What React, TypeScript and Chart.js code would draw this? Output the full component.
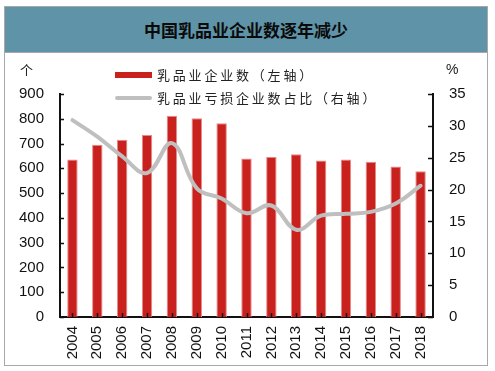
import React, { useEffect, useRef } from "react";
import Chart from "chart.js/auto";

const years = ["2004", "2005", "2006", "2007", "2008", "2009", "2010", "2011", "2012", "2013", "2014", "2015", "2016", "2017", "2018"];
const enterpriseCount = [636, 695, 715, 735, 812, 802, 782, 640, 646, 657, 632, 636, 627, 607, 588];
const lossShare = [30.9, 28.3, 25.2, 22.6, 27.3, 20.2, 18.6, 16.3, 17.5, 13.7, 15.9, 16.2, 16.5, 17.8, 20.6];
const leftTicks = [0, 100, 200, 300, 400, 500, 600, 700, 800, 900];
const rightTicks = [0, 5, 10, 15, 20, 25, 30, 35];

const titleText = "中国乳品业企业数逐年减少";
const barLabel = "乳品业企业数（左轴）";
const lineLabel = "乳品业亏损企业数占比（右轴）";

const tickPlugin = {
  id: "innerTicks",
  afterDatasetsDraw(chart: any) {
    const ctx = chart.ctx;
    const xs = chart.scales.x;
    const y = chart.scales.y;
    const y1 = chart.scales.y1;
    const area = chart.chartArea;
    ctx.save();
    ctx.strokeStyle = "#111";
    ctx.lineWidth = 1.5;
    ctx.beginPath();
    leftTicks.forEach((v) => {
      const py = Math.round(y.getPixelForValue(v)) + 0.5;
      ctx.moveTo(area.left, py);
      ctx.lineTo(area.left + 4, py);
    });
    rightTicks.forEach((v) => {
      const py = Math.round(y1.getPixelForValue(v)) + 0.5;
      ctx.moveTo(area.right, py);
      ctx.lineTo(area.right - 5, py);
    });
    years.forEach((_, i) => {
      const px = Math.round(xs.getPixelForValue(i)) + 0.5;
      ctx.moveTo(px, area.bottom);
      ctx.lineTo(px, area.bottom - 4);
    });
    ctx.stroke();
    ctx.restore();
  },
};

export default function App() {
  const ref = useRef<HTMLCanvasElement | null>(null);

  useEffect(() => {
    if (!ref.current) return;
    const tickFont = { family: "'Liberation Sans', Arial, sans-serif", size: 15 };
    const chart = new Chart(ref.current, {
      type: "bar",
      data: {
        labels: years,
        datasets: [
          {
            type: "line",
            label: lineLabel,
            data: lossShare,
            yAxisID: "y1",
            borderColor: "#BFBFBF",
            borderWidth: 4,
            pointRadius: 0,
            tension: 0.4,
            fill: false,
            order: 0,
            borderCapStyle: "round",
          } as any,
          {
            type: "bar",
            label: barLabel,
            data: enterpriseCount,
            yAxisID: "y",
            backgroundColor: "#C9211E",
            borderColor: "#E58A88",
            borderWidth: 1,
            barPercentage: 0.42,
            categoryPercentage: 1,
            order: 1,
          } as any,
        ],
      },
      options: {
        animation: false,
        responsive: false,
        layout: { padding: { top: 94, left: 0, right: 0, bottom: 0 } },
        plugins: {
          legend: { display: false },
          tooltip: { enabled: false },
          title: { display: false },
        },
        scales: {
          x: {
            type: "category",
            offset: true,
            grid: { display: false, drawTicks: false },
            border: { display: true, color: "#111", width: 2 },
            ticks: {
              minRotation: 90,
              maxRotation: 90,
              autoSkip: false,
              padding: 9,
              color: "#111",
              font: tickFont,
            },
            afterFit: (s: any) => {
              s.height = 54;
            },
          },
          y: {
            position: "left",
            min: 0,
            max: 900,
            grid: { display: false, drawTicks: false },
            border: { display: true, color: "#111", width: 2 },
            ticks: {
              stepSize: 100,
              padding: 16,
              color: "#111",
              font: tickFont,
            },
            afterFit: (s: any) => {
              s.width = 60;
            },
          },
          y1: {
            position: "right",
            min: 0,
            max: 35,
            grid: { display: false, drawTicks: false },
            border: { display: true, color: "#111", width: 2 },
            ticks: {
              stepSize: 5,
              padding: 16,
              color: "#111",
              font: tickFont,
            },
            afterFit: (s: any) => {
              s.width = 62;
            },
          },
        },
      } as any,
      plugins: [tickPlugin],
    });
    return () => chart.destroy();
  }, []);

  const cjk = "'Noto Sans CJK SC', 'Noto Sans', sans-serif";
  return (
    <div style={{ position: "absolute", left: 0, top: 0, width: 495, height: 371, background: "#fff", overflow: "hidden" }}>
      <div
        style={{
          position: "absolute",
          left: 4,
          top: 6,
          width: 482,
          height: 358,
          border: "1px solid #A8A8A8",
          boxSizing: "content-box",
        }}
      />
      <div
        style={{
          position: "absolute",
          left: 5,
          top: 7,
          width: 482,
          height: 45,
          background: "#5E93A8",
          borderBottom: "1px solid #A8A8A8",
          display: "flex",
          alignItems: "center",
          justifyContent: "center",
          fontFamily: cjk,
          fontWeight: 700,
          fontSize: 17,
          color: "#0a0a0a",
        }}
      >
        {titleText}
      </div>
      <canvas ref={ref} width={495} height={371} style={{ position: "absolute", left: 0, top: 0, width: 495, height: 371 }} />
      <div style={{ position: "absolute", left: 20, top: 60, fontFamily: cjk, fontSize: 13, color: "#222" }}>个</div>
      <div style={{ position: "absolute", left: 446, top: 61, fontFamily: "'Liberation Sans', Arial, sans-serif", fontSize: 14, color: "#222" }}>%</div>
      <div style={{ position: "absolute", left: 115, top: 72, width: 37, height: 6, background: "#C9211E" }} />
      <div style={{ position: "absolute", left: 157, top: 66, fontFamily: cjk, fontSize: 13, letterSpacing: 2.8, color: "#222", lineHeight: "18px", whiteSpace: "nowrap" }}>
        {barLabel}
      </div>
      <div style={{ position: "absolute", left: 115, top: 96, width: 37, height: 4, background: "#BFBFBF", borderRadius: 2 }} />
      <div style={{ position: "absolute", left: 157, top: 89, fontFamily: cjk, fontSize: 13, letterSpacing: 2.8, color: "#222", lineHeight: "18px", whiteSpace: "nowrap" }}>
        {lineLabel}
      </div>
    </div>
  );
}
